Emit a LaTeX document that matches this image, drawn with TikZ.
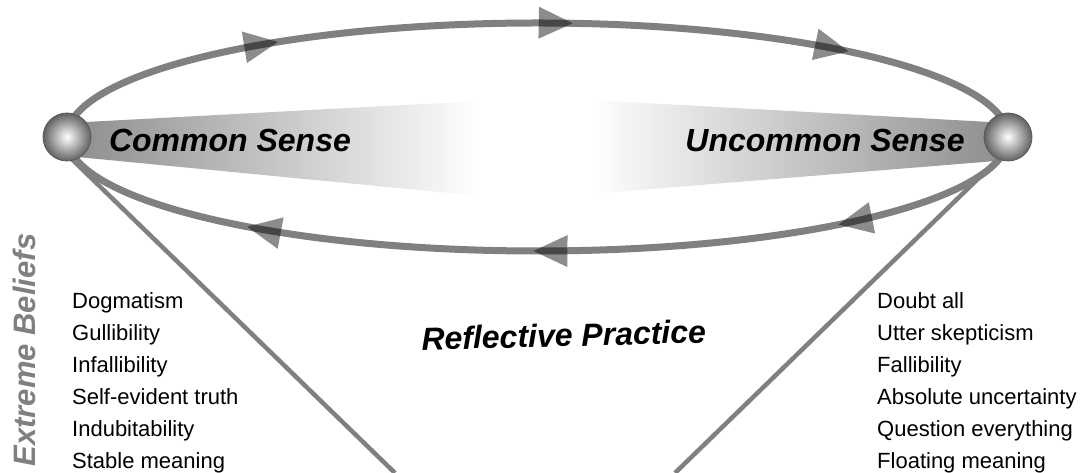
\documentclass[tikz,border=0pt]{standalone}
\usepackage{fontspec}
\setmainfont{Liberation Sans}
\usetikzlibrary{decorations.markings}
\newcommand\headtri{\fill[head] (0,0) -- (-34,16) -- (-34,-16) -- cycle;}
\tikzset{
  loopline/.style={draw=black!50, line width=7pt},
  spoke/.style={draw=black!50, line width=4.5pt},
  orb/.style={circle, minimum size=48pt, inner sep=0pt, draw=black!65, line width=0.8pt,
    inner color=white, outer color=black!62},
  head/.style={fill=black, opacity=0.45},
  sense/.style={anchor=base, inner sep=0pt, font=\fontsize{32}{38}\selectfont\bfseries\itshape},
  belief/.style={anchor=north west, inner sep=0pt, align=left, font=\fontsize{22}{32}\selectfont},
  toparrows/.style={postaction={decorate}, decoration={markings,
    mark=at position 0.241 with {\headtri},
    mark=at position 0.535 with {\headtri},
    mark=at position 0.811 with {\headtri}}},
  botarrows/.style={postaction={decorate}, decoration={markings,
    mark=at position 0.199 with {\headtri},
    mark=at position 0.504 with {\headtri},
    mark=at position 0.790 with {\headtri}}}
}
\begin{document}
\begin{tikzpicture}[x=1pt, y=1pt]
  \useasboundingbox (0,0) rectangle (1081,473);
  \coordinate (cs) at (67,336);
  \coordinate (us) at (1008,336);
  \coordinate (lfoot) at (395,0);
  \coordinate (rfoot) at (675,0);

  \shade[left color=black!45, right color=white]
    (67,350) -- (480,372) -- (480,277) -- (67,317) -- cycle;
  \shade[left color=white, right color=black!45]
    (590,373) -- (1008,350) -- (1008,313) -- (590,279) -- cycle;

  \draw[loopline, toparrows] (cs) arc[start angle=180, end angle=0, x radius=470.5pt, y radius=114pt];
  \draw[loopline, botarrows] (us) arc[start angle=360, end angle=180, x radius=470.5pt, y radius=114pt];

  \begin{scope}[spoke]
    \draw ([xshift=-18pt]cs) -- (lfoot);
    \draw ([xshift=13pt]us) -- (rfoot);
  \end{scope}

  \node[orb] (csball) at (cs) {};
  \node[orb] (usball) at (us) {};

  \node[sense] (common) at (230,321) {Common Sense};
  \node[sense] (uncommon) at (825,321) {Uncommon Sense};
  \node[sense, rotate=1.5] (practice) at (564,126.5) {Reflective Practice};
  \node[sense, rotate=90, text=black!50, font=\fontsize{31}{36}\selectfont\bfseries\itshape]
    (extreme) at (35,123) {Extreme Beliefs};

  \node[belief] (dogma) at (72,181) {Dogmatism\\Gullibility\\Infallibility\\Self-evident truth\\Indubitability\\Stable meaning};
  \node[belief] (doubt) at (877,181) {Doubt all\\Utter skepticism\\Fallibility\\Absolute uncertainty\\Question everything\\Floating meaning};
\end{tikzpicture}
\end{document}
